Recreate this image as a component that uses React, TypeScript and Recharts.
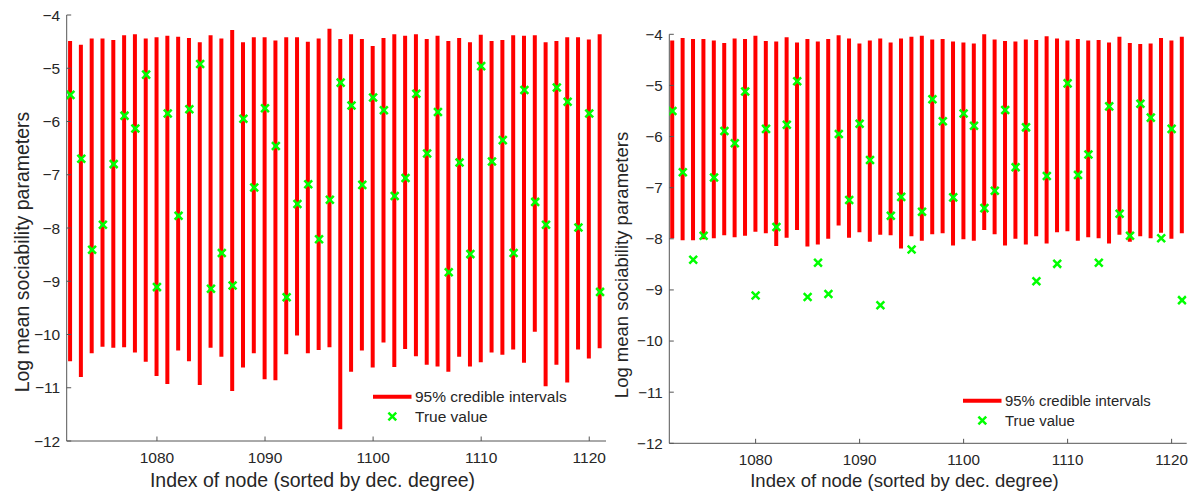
import React from 'react';
import { ComposedChart, Bar, Scatter, XAxis, YAxis, Legend } from 'recharts';

const nodeIndex = [
  1072, 1073, 1074, 1075, 1076, 1077, 1078, 1079, 1080, 1081,
  1082, 1083, 1084, 1085, 1086, 1087, 1088, 1089, 1090, 1091,
  1092, 1093, 1094, 1095, 1096, 1097, 1098, 1099, 1100, 1101,
  1102, 1103, 1104, 1105, 1106, 1107, 1108, 1109, 1110, 1111,
  1112, 1113, 1114, 1115, 1116, 1117, 1118, 1119, 1120, 1121,
];

const trueValue = [
  -5.50, -6.70, -8.41, -7.94, -6.80, -5.89, -6.13, -5.12, -9.11, -5.85,
  -7.77, -5.77, -4.92, -9.14, -8.47, -9.08, -5.95, -7.24, -5.75, -6.46,
  -9.30, -7.55, -7.18, -8.21, -7.47, -5.27, -5.70, -7.19, -5.55, -5.79,
  -7.40, -7.06, -5.48, -6.60, -5.82, -8.83, -6.77, -8.49, -4.96, -6.75,
  -6.35, -8.47, -5.41, -7.51, -7.94, -5.36, -5.63, -7.99, -5.85, -9.20,
];

const leftLower = [
  -10.50, -10.80, -10.35, -10.23, -10.25, -10.24, -10.34, -10.51, -10.78, -10.93,
  -10.30, -10.50, -10.95, -10.25, -10.42, -11.06, -10.62, -10.35, -10.84, -10.86,
  -10.37, -10.02, -10.35, -10.29, -10.24, -11.78, -10.70, -10.30, -10.62, -10.15,
  -10.61, -10.27, -10.41, -10.57, -10.60, -10.70, -10.42, -10.60, -10.52, -10.34,
  -10.38, -10.28, -10.53, -9.95, -10.97, -10.57, -10.90, -10.28, -10.45, -10.26,
];

const leftUpper = [
  -4.49, -4.56, -4.44, -4.44, -4.47, -4.38, -4.36, -4.44, -4.42, -4.39,
  -4.41, -4.43, -4.51, -4.38, -4.44, -4.28, -4.51, -4.42, -4.42, -4.48,
  -4.42, -4.42, -4.50, -4.44, -4.26, -4.45, -4.36, -4.45, -4.58, -4.43,
  -4.36, -4.39, -4.36, -4.45, -4.39, -4.49, -4.43, -4.51, -4.37, -4.49,
  -4.47, -4.38, -4.39, -4.38, -4.51, -4.49, -4.42, -4.42, -4.46, -4.36,
];

const rightLower = [
  -7.99, -8.03, -8.03, -8.01, -7.99, -7.93, -7.97, -7.94, -7.86, -7.89,
  -8.14, -7.98, -7.83, -8.15, -8.11, -8.00, -7.74, -7.98, -7.87, -8.06,
  -7.92, -7.93, -8.19, -7.95, -8.04, -7.91, -7.89, -8.13, -8.01, -8.04,
  -7.83, -7.91, -8.13, -8.00, -8.11, -7.95, -8.09, -7.87, -7.85, -8.04,
  -7.97, -7.99, -8.09, -7.92, -8.06, -7.95, -7.99, -7.88, -8.00, -7.89,
];

const rightUpper = [
  -4.12, -4.07, -4.09, -4.09, -4.12, -4.17, -4.08, -4.09, -4.03, -4.13,
  -4.14, -4.06, -4.16, -4.09, -4.14, -4.09, -4.02, -4.08, -4.18, -4.12,
  -4.08, -4.16, -4.08, -4.05, -4.03, -4.10, -4.09, -4.14, -4.16, -4.18,
  -3.98, -4.10, -4.13, -4.14, -4.10, -4.11, -4.04, -4.08, -4.12, -4.09,
  -4.12, -4.11, -4.16, -4.05, -4.17, -4.19, -4.18, -4.07, -4.12, -4.05,
];

const yTicks = [-12, -11, -10, -9, -8, -7, -6, -5, -4];
const xTicks = [1080, 1090, 1100, 1110, 1120];
const legendLabels = ['95% credible intervals', 'True value'];
const xAxisTitle = 'Index of node (sorted by dec. degree)';
const yAxisTitle = 'Log mean sociability parameters';

const RED = '#ff0000';
const GREEN = '#00ff00';
const INK = '#262626';
const AXIS = '#555555';
const FONT = '"Liberation Sans", Arial, Helvetica, sans-serif';

const buildRows = (lo: number[], hi: number[]) =>
  nodeIndex.map((idx, i) => ({ idx, interval: [lo[i], hi[i]], truth: trueValue[i] }));

const leftRows = buildRows(leftLower, leftUpper);
const rightRows = buildRows(rightLower, rightUpper);

const fmt = (v: number) => (v < 0 ? '\u2212' + Math.abs(v) : String(v));

const XMark = (props: any) => {
  const { cx, cy } = props;
  if (cx == null || cy == null) return null;
  const r = 3.9;
  return (
    <path
      d={`M${cx - r},${cy - r}L${cx + r},${cy + r}M${cx - r},${cy + r}L${cx + r},${cy - r}`}
      stroke={GREEN}
      strokeWidth={2.5}
      fill="none"
    />
  );
};

type PanelProps = {
  rows: any[];
  left: number;
  width: number;
  top: number;
  bottomAxisHeight: number;
  yAxisWidth: number;
  rightMargin: number;
  xDomain: [number, number];
  tickFont: number;
  labelFont: number;
  legendFont: number;
  xTitle: { x: number; y: number };
  yTitle: { x: number; y: number };
  legendPos: { left: number; top: number };
};

const LegendBox = ({ fontSize }: { fontSize: number }) => (
  <svg width={210} height={44} style={{ display: 'block', overflow: 'visible' }}>
    <line x1={3} y1={11.7} x2={41.5} y2={11.7} stroke={RED} strokeWidth={4} />
    <text x={45} y={11.7} dy="0.35em" fontSize={fontSize} fill={INK} fontFamily={FONT}>
      {legendLabels[0]}
    </text>
    <XMark cx={22.3} cy={31.5} />
    <text x={45} y={31.5} dy="0.35em" fontSize={fontSize} fill={INK} fontFamily={FONT}>
      {legendLabels[1]}
    </text>
  </svg>
);

const Panel = (p: PanelProps) => (
  <div style={{ position: 'absolute', left: p.left, top: 0 }}>
    <ComposedChart
      width={p.width}
      height={498}
      data={p.rows}
      margin={{ top: p.top, right: p.rightMargin, bottom: 0, left: 0 }}
      style={{ fontFamily: FONT }}
    >
      <XAxis
        dataKey="idx"
        type="number"
        domain={p.xDomain}
        allowDataOverflow
        ticks={xTicks}
        interval={0}
        height={p.bottomAxisHeight}
        tickSize={-4.5}
        tickMargin={15}
        axisLine={{ stroke: AXIS }}
        tickLine={{ stroke: AXIS }}
        tick={{ fontSize: p.tickFont, fill: INK }}
        label={{
          content: () => (
            <text
              x={p.xTitle.x}
              y={p.xTitle.y}
              textAnchor="middle"
              fontSize={p.labelFont}
              fill={INK}
              fontFamily={FONT}
            >
              {xAxisTitle}
            </text>
          ),
        }}
      />
      <YAxis
        type="number"
        domain={[-12, -4]}
        allowDataOverflow
        ticks={yTicks}
        interval={0}
        width={p.yAxisWidth}
        tickSize={-4.5}
        tickMargin={11}
        tickFormatter={fmt}
        axisLine={{ stroke: AXIS }}
        tickLine={{ stroke: AXIS }}
        tick={{ fontSize: p.tickFont, fill: INK }}
        label={{
          content: () => (
            <text
              x={p.yTitle.x}
              y={p.yTitle.y}
              transform={`rotate(-90, ${p.yTitle.x}, ${p.yTitle.y})`}
              textAnchor="middle"
              fontSize={p.labelFont}
              fill={INK}
              fontFamily={FONT}
            >
              {yAxisTitle}
            </text>
          ),
        }}
      />
      <Bar dataKey="interval" fill={RED} barSize={4} isAnimationActive={false} />
      <Scatter dataKey="truth" shape={XMark} isAnimationActive={false} />
      <Legend
        layout="vertical"
        align="center"
        verticalAlign="middle"
        wrapperStyle={{ left: p.legendPos.left, top: p.legendPos.top, width: 210, height: 44 }}
        content={() => <LegendBox fontSize={p.legendFont} />}
      />
    </ComposedChart>
  </div>
);

export default function App() {
  return (
    <div
      style={{
        position: 'absolute',
        left: 0,
        top: 0,
        width: 1190,
        height: 498,
        background: '#ffffff',
        fontFamily: FONT,
        overflow: 'hidden',
      }}
    >
      <Panel
        rows={leftRows}
        left={0}
        width={620}
        top={15}
        bottomAxisHeight={57}
        yAxisWidth={66.7}
        rightMargin={14}
        xDomain={[1071.65, 1121.55]}
        tickFont={15.5}
        labelFont={19.5}
        legendFont={15.5}
        xTitle={{ x: 312.5, y: 487 }}
        yTitle={{ x: 29, y: 252 }}
        legendPos={{ left: 370, top: 385 }}
      />
      <Panel
        rows={rightRows}
        left={600}
        width={590}
        top={34.3}
        bottomAxisHeight={54.7}
        yAxisWidth={69.3}
        rightMargin={3.3}
        xDomain={[1071.7, 1121.45]}
        tickFont={15.2}
        labelFont={18.5}
        legendFont={14.9}
        xTitle={{ x: 304.5, y: 487 }}
        yTitle={{ x: 28, y: 265 }}
        legendPos={{ left: 360, top: 389 }}
      />
    </div>
  );
}
